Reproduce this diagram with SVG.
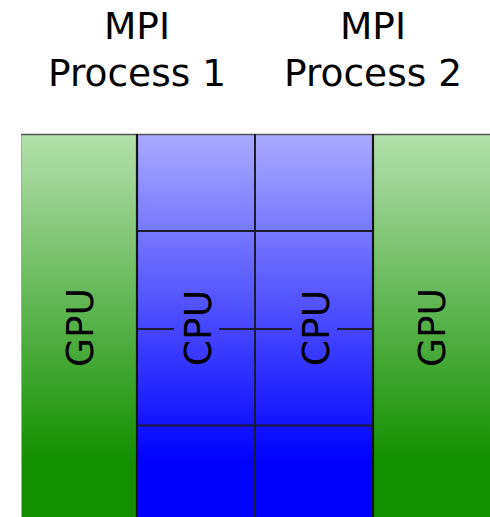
<svg xmlns="http://www.w3.org/2000/svg" width="490" height="517" viewBox="0 0 490 517">
  <style>
    .label { font-family: "DejaVu Sans", "Liberation Sans", sans-serif; font-size: 37.5px; fill: #000; text-anchor: middle; }
    .grid { stroke: #1c1c30; stroke-width: 2; fill: none; }
    .edge { stroke: #161616; stroke-width: 2.2; }
  </style>
  <defs>
    <linearGradient id="gpuFill" gradientUnits="userSpaceOnUse" x1="0" y1="134" x2="0" y2="463">
      <stop offset="0" stop-color="#b4e0ac"/>
      <stop offset="1" stop-color="#138e00"/>
    </linearGradient>
    <linearGradient id="cpuFill" gradientUnits="userSpaceOnUse" x1="0" y1="134" x2="0" y2="463">
      <stop offset="0" stop-color="#aaaaff"/>
      <stop offset="1" stop-color="#0000ff"/>
    </linearGradient>
  </defs>

  <rect width="490" height="517" fill="#fff"/>

  <!-- process titles -->
  <g id="title1">
    <text class="label" x="137" y="39">MPI</text>
    <text class="label" x="137" y="86">Process 1</text>
  </g>
  <g id="title2">
    <text class="label" x="373" y="39">MPI</text>
    <text class="label" x="373" y="86">Process 2</text>
  </g>

  <!-- left GPU -->
  <g id="gpu1">
    <rect x="21" y="134" width="116" height="390" fill="url(#gpuFill)"/>
    <line x1="21.5" y1="134" x2="21.5" y2="517" stroke="#8fbf86" stroke-width="1"/>
    <text class="label" transform="translate(93 327.5) rotate(-90)">GPU</text>
  </g>

  <!-- CPU of process 1 -->
  <g id="cpu1">
    <rect x="137" y="134" width="118" height="390" fill="url(#cpuFill)"/>
    <line class="grid" x1="137" y1="231" x2="255" y2="231"/>
    <line class="grid" x1="137" y1="329" x2="174" y2="329"/>
    <line class="grid" x1="219" y1="329" x2="255" y2="329"/>
    <line class="grid" x1="137" y1="425.5" x2="255" y2="425.5"/>
    <text class="label" transform="translate(211 328) rotate(-90)">CPU</text>
  </g>

  <!-- CPU of process 2 -->
  <g id="cpu2">
    <rect x="255" y="134" width="118" height="390" fill="url(#cpuFill)"/>
    <line class="grid" x1="255" y1="231" x2="373" y2="231"/>
    <line class="grid" x1="255" y1="329" x2="292" y2="329"/>
    <line class="grid" x1="337" y1="329" x2="373" y2="329"/>
    <line class="grid" x1="255" y1="425.5" x2="373" y2="425.5"/>
    <text class="label" transform="translate(329 328) rotate(-90)">CPU</text>
  </g>

  <!-- right GPU -->
  <g id="gpu2">
    <rect x="373" y="134" width="117" height="390" fill="url(#gpuFill)"/>
    <text class="label" transform="translate(445 327.5) rotate(-90)">GPU</text>
  </g>

  <!-- column dividers and top edge -->
  <g id="frame">
    <line x1="21" y1="134.5" x2="490" y2="134.5" stroke="#555" stroke-width="1.6"/>
    <line class="edge" x1="137" y1="134" x2="137" y2="517"/>
    <line class="grid" x1="255" y1="134" x2="255" y2="517"/>
    <line class="edge" x1="373" y1="134" x2="373" y2="517"/>
  </g>
</svg>
